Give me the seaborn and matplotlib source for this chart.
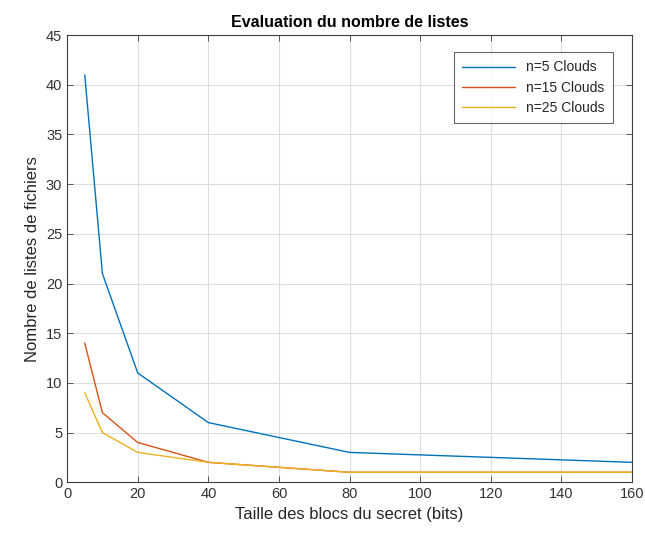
import matplotlib
matplotlib.use("Agg")
import matplotlib.pyplot as plt
import seaborn as sns
import pandas as pd

x_bits = [5, 10, 20, 40, 80, 160]
n5 = [41, 21, 11, 6, 3, 2]
n15 = [14, 7, 4, 2, 1, 1]
n25 = [9, 5, 3, 2, 1, 1]
series_names = ["n=5 Clouds", "n=15 Clouds", "n=25 Clouds"]
colors = ["#0072BD", "#D95319", "#EDB120"]
x_ticks = [0, 20, 40, 60, 80, 100, 120, 140, 160]
y_ticks = [0, 5, 10, 15, 20, 25, 30, 35, 40, 45]

df = pd.concat([
    pd.DataFrame({"x": x_bits, "y": vals, "s": name})
    for vals, name in zip([n5, n15, n25], series_names)
])

sns.set_theme(style="white")
plt.rcParams['font.family'] = ['Liberation Sans', 'DejaVu Sans']

fig = plt.figure(figsize=(6.45, 5.4), dpi=100)
ax = fig.add_axes([0.104, 0.107, 0.876, 0.828])
sns.lineplot(data=df, x="x", y="y", hue="s", palette=colors, ax=ax,
             linewidth=1.0, legend=True)

ax.set_xlim(0, 160)
ax.set_ylim(0, 45)
ax.set_xticks(x_ticks)
ax.set_yticks(y_ticks)
ax.grid(True, color="#dddddd", linewidth=0.8)
ax.set_axisbelow(True)
for sp in ax.spines.values():
    sp.set_color("#404040")
    sp.set_linewidth(0.8)
ax.tick_params(direction="in", length=4, width=0.6, color="#404040",
               top=True, right=True, bottom=True, left=True,
               labelsize=10.5, labelcolor="#333333")
ax.set_xlabel("Taille des blocs du secret (bits)", fontsize=12, color="#262626")
ax.set_ylabel("Nombre de listes de fichiers", fontsize=12, color="#262626")
ax.set_title("Evaluation du nombre de listes", fontsize=11.5, fontweight="bold", color="black", pad=6)

leg = ax.legend(loc="upper right", bbox_to_anchor=(0.966, 0.962), borderaxespad=0,
                fontsize=10, frameon=True, fancybox=False, handlelength=3.8,
                borderpad=0.6, labelspacing=0.45)
leg.get_frame().set_edgecolor("#404040")
leg.get_frame().set_linewidth(0.8)

fig.savefig("out.png", dpi=100)
